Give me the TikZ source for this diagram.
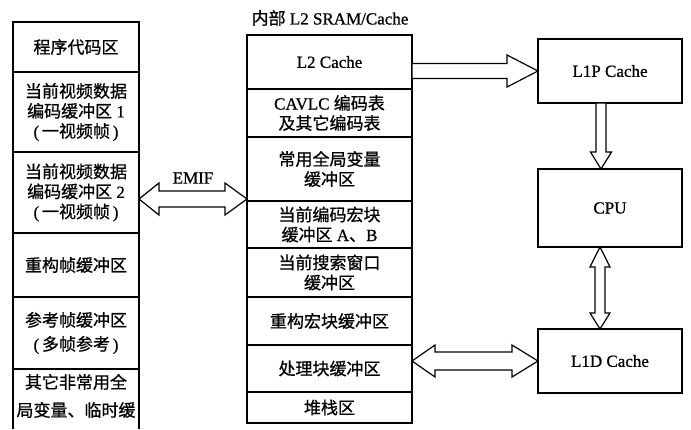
\documentclass[tikz,border=0pt]{standalone}
\usepackage{fontspec}
\setmainfont[FakeBold=0.8,AutoFakeBold=0.8]{Liberation Serif}
\newfontfamily\cjk[FakeBold=0.8,AutoFakeBold=0.8]{Noto Sans CJK SC}
\newcommand{\zh}[1]{{\cjk\bfseries #1}}
\usetikzlibrary{calc}
\begin{document}
\begin{tikzpicture}[x=1pt,y=-1pt,
  every node/.style={font=\fontsize{17}{20}\selectfont\bfseries, align=center, outer sep=0pt, inner sep=0pt},
  lcell/.style={draw, line width=1.2pt, minimum width=126pt},
  mcell/.style={draw, line width=1.2pt, minimum width=165pt},
  rbox/.style={draw, line width=1.2pt, minimum width=144pt},
  fat/.style={draw, fill=white, line width=1.2pt, line join=miter}]
\useasboundingbox (0,0) rectangle (691,429);
% left column
\node[lcell, minimum height=50pt] (l1) at (76,47) {\zh{程序代码区}};
\node[lcell, minimum height=80pt] (l2) at (76,112) {\zh{当前视频数据}\\\zh{编码缓冲区} 1\\(\,\zh{一视频帧}\,)};
\node[lcell, minimum height=81pt] (l3) at (76,192.5) {\zh{当前视频数据}\\\zh{编码缓冲区} 2\\(\,\zh{一视频帧}\,)};
\node[lcell, minimum height=64pt] (l4) at (76,265) {\zh{重构帧缓冲区}};
\node[lcell, minimum height=72pt] (l5) at (76,333) {\zh{参考帧缓冲区}\\[4pt](\,\zh{多帧参考}\,)};
\node[minimum width=126pt, minimum height=60pt] (l6) at (76,399) {};
\draw[line width=1.2pt] (l6.south west) -- (l6.north west) -- (l6.north east) -- (l6.south east);
\node[anchor=north] (l6t) at (76,374) {\zh{其它非常用全}\\[8pt]\zh{局变量、临时缓}};
% middle column
\node (title) at (330,18) {\zh{内部} L2 SRAM/Cache};
\node[mcell, minimum height=54pt] (m1) at (329.5,62) {L2 Cache};
\node[mcell, minimum height=48pt] (m2) at (329.5,113) {CAVLC \zh{编码表}\\\zh{及其它编码表}};
\node[mcell, minimum height=64pt] (m3) at (329.5,169) {\zh{常用全局变量}\\\zh{缓冲区}};
\node[mcell, minimum height=47pt] (m4) at (329.5,224.5) {\zh{当前编码宏块}\\\zh{缓冲区} A\zh{、}B};
\node[mcell, minimum height=49pt] (m5) at (329.5,272.5) {\zh{当前搜索窗口}\\\zh{缓冲区}};
\node[mcell, minimum height=48pt] (m6) at (329.5,321) {\zh{重构宏块缓冲区}};
\node[mcell, minimum height=47pt] (m7) at (329.5,368.5) {\zh{处理块缓冲区}};
\node[mcell, minimum height=31pt] (m8) at (329.5,407.5) {\zh{堆栈区}};
% right boxes
\node[rbox, minimum height=64pt] (r1) at (610,71) {L1P Cache};
\node[rbox, minimum height=78pt] (r2) at (610,208) {CPU};
\node[rbox, minimum height=64pt] (r3) at (610,361) {L1D Cache};
% arrow L2 -> L1P
\coordinate (a1s) at (m1.east |- r1.west);
\coordinate (a1t) at (r1.west);
\draw[fat] ($(a1s)+(0,-7.5)$) -- ($(a1t)+(-31,-7.5)$) -- ($(a1t)+(-31,-16)$) -- (a1t)
  -- ($(a1t)+(-31,16)$) -- ($(a1t)+(-31,7.5)$) -- ($(a1s)+(0,7.5)$) -- cycle;
% arrow L1P -> CPU
\coordinate (vx) at (601,0);
\coordinate (a2s) at (vx |- r1.south);
\coordinate (a2t) at (vx |- r2.north);
\draw[fat] ($(a2s)+(-5,0)$) -- ($(a2t)+(-5,-17)$) -- ($(a2t)+(-10.5,-17)$) -- (a2t)
  -- ($(a2t)+(10.5,-17)$) -- ($(a2t)+(5,-17)$) -- ($(a2s)+(5,0)$) -- cycle;
% arrow CPU <-> L1D
\coordinate (vx2) at (600,0);
\coordinate (a3a) at (vx2 |- r2.south);
\coordinate (a3b) at (vx2 |- r3.north);
\draw[fat] (a3a) -- ($(a3a)+(10,20)$) -- ($(a3a)+(5,20)$) -- ($(a3b)+(5,-16)$) -- ($(a3b)+(10,-16)$)
  -- (a3b) -- ($(a3b)+(-10,-16)$) -- ($(a3b)+(-5,-16)$) -- ($(a3a)+(-5,20)$) -- ($(a3a)+(-10,20)$) -- cycle;
% arrow processing buffer <-> L1D
\coordinate (a4l) at (m7.east |- r3.west);
\coordinate (a4r) at (r3.west);
\draw[fat] (a4l) -- ($(a4l)+(23,-16)$) -- ($(a4l)+(23,-9)$) -- ($(a4r)+(-26,-9)$) -- ($(a4r)+(-26,-16)$)
  -- (a4r) -- ($(a4r)+(-26,16)$) -- ($(a4r)+(-26,9)$) -- ($(a4l)+(23,9)$) -- ($(a4l)+(23,16)$) -- cycle;
% EMIF arrow
\coordinate (ey) at (0,199);
\coordinate (a5l) at (l3.east |- ey);
\coordinate (a5r) at (m4.west |- ey);
\draw[fat] (a5l) -- ($(a5l)+(20,-16)$) -- ($(a5l)+(20,-8)$) -- ($(a5r)+(-22,-8)$) -- ($(a5r)+(-22,-16)$)
  -- (a5r) -- ($(a5r)+(-22,16)$) -- ($(a5r)+(-22,8)$) -- ($(a5l)+(20,8)$) -- ($(a5l)+(20,16)$) -- cycle;
\node (emif) at (193,178) {EMIF};
\end{tikzpicture}
\end{document}
